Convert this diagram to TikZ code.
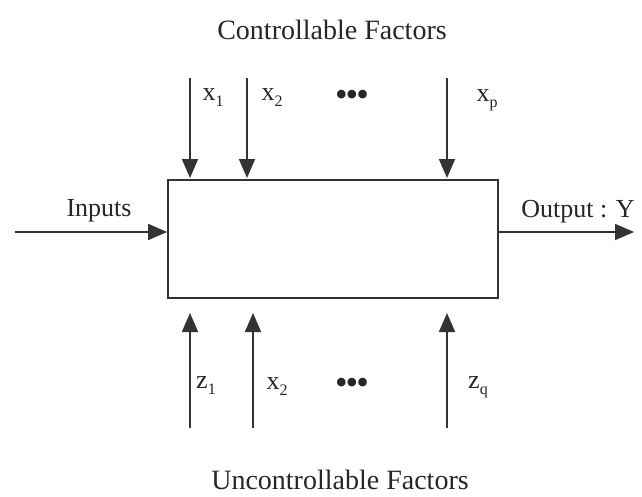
\documentclass[tikz,border=0pt]{standalone}
\usepackage{fontspec}
\setmainfont{Liberation Serif}
\usetikzlibrary{arrows.meta}
\newcommand{\lowsub}[1]{\raisebox{-0.5ex}{\fontsize{16}{16}\selectfont #1}}
\newcommand{\bigdots}{{\fontsize{36}{36}\selectfont\textbullet\hspace{-2pt}\textbullet\hspace{-2pt}\textbullet}}
\begin{document}
\begin{tikzpicture}[x=1pt,y=-1pt,
  lbl/.style={font=\fontsize{26}{28}\selectfont, text=black!85, inner sep=0pt},
  ttl/.style={font=\fontsize{28}{30}\selectfont, text=black!85, inner sep=0pt},
  arr/.style={line width=1.8pt, draw=black!80, -{Triangle[length=19pt,width=16pt]}},
  sysbox/.style={draw=black!80, line width=1.8pt, minimum width=330pt, minimum height=118pt, inner sep=0pt}]
\useasboundingbox (0,0) rectangle (642,496);
\node[sysbox] (box) at (333,239) {};
% titles
\node[ttl] (ctitle) at (332,30) {Controllable Factors};
\node[ttl] (utitle) at (340,480) {Uncontrollable Factors};
% top arrows
\coordinate (t1s) at (190,78);
\coordinate (t2s) at (247,78);
\coordinate (t3s) at (447,78);
\coordinate (t1e) at (190,178);
\coordinate (t2e) at (247,178);
\coordinate (t3e) at (447,178);
\draw[arr] (t1s) -- (t1e);
\draw[arr] (t2s) -- (t2e);
\draw[arr] (t3s) -- (t3e);
\node[lbl] (x1) at (213,98) {x\lowsub{1}};
\node[lbl] (x2) at (272,98) {x\lowsub{2}};
\node[lbl] (tdots) at (352,98) {\bigdots};
\node[lbl] (xp) at (487,100) {x\lowsub{p}};
% bottom arrows
\coordinate (b1s) at (190,428);
\coordinate (b2s) at (253,428);
\coordinate (b3s) at (447,428);
\coordinate (b1e) at (190,313);
\coordinate (b2e) at (253,313);
\coordinate (b3e) at (447,313);
\draw[arr] (b1s) -- (b1e);
\draw[arr] (b2s) -- (b2e);
\draw[arr] (b3s) -- (b3e);
\node[lbl] (z1) at (206,386) {z\lowsub{1}};
\node[lbl] (zx2) at (277,387) {x\lowsub{2}};
\node[lbl] (bdots) at (352,386) {\bigdots};
\node[lbl] (zq) at (478,387) {z\lowsub{q}};
% input / output
\coordinate (ins) at (15,232);
\coordinate (oute) at (634,232);
\draw[arr] (ins) -- (ins -| box.west);
\draw[arr] (oute -| box.east) -- (oute);
\node[lbl, anchor=base] (inputs) at (99,216) {Inputs};
\node[lbl, anchor=base] (output) at (578,217) {Output : Y};
\end{tikzpicture}
\end{document}
